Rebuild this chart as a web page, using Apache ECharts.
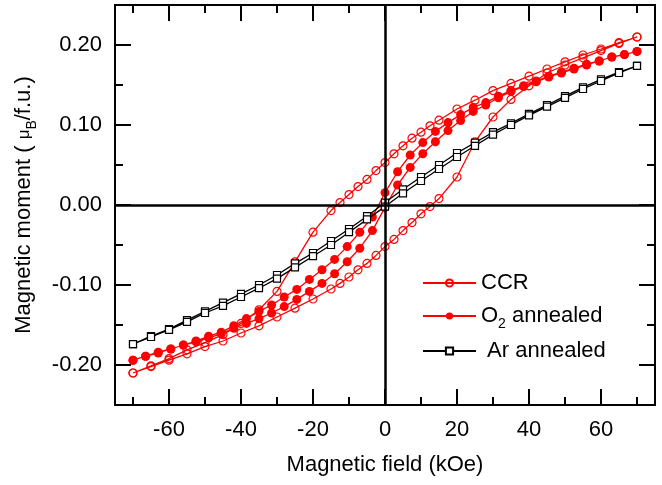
<!DOCTYPE html>
<html><head><meta charset="utf-8">
<script src="https://cdn.jsdelivr.net/npm/echarts@6/dist/echarts.min.js"></script>
<style>html,body{margin:0;padding:0;background:#fff}#c{width:662px;height:485px}</style>
</head><body><div id="c"></div>
<script>
// ---- data (field in kOe, moment in muB/f.u.) ----
const ccrFieldDown = [70,65,60,55,50,45,40,35,30,25,20,15,12.5,10,7.5,5,2.5,0,-2.5,-5,-7.5,-10,-12.5,-15,-20,-25,-30,-35,-40,-45,-50,-55,-60,-65,-70];
const ccrMomentDown = [0.210,0.203,0.195,0.1875,0.179,0.170,0.161,0.152,0.143,0.131,0.120,0.106,0.099,0.091,0.0835,0.074,0.064,0.053,0.043,0.032,0.023,0.013,0.003,-0.007,-0.034,-0.071,-0.108,-0.131,-0.148,-0.162,-0.172,-0.181,-0.192,-0.201,-0.210];
const ccrFieldUp = [-70,-65,-60,-55,-50,-45,-40,-35,-30,-25,-20,-15,-12.5,-10,-7.5,-5,-2.5,0,2.5,5,7.5,10,12.5,15,20,25,30,35,40,45,50,55,60,65,70];
const ccrMomentUp = [-0.210,-0.202,-0.194,-0.186,-0.177,-0.170,-0.160,-0.151,-0.140,-0.129,-0.1175,-0.105,-0.098,-0.090,-0.081,-0.073,-0.063,-0.052,-0.043,-0.032,-0.022,-0.011,-0.002,0.008,0.035,0.079,0.110,0.132,0.149,0.165,0.175,0.184,0.193,0.202,0.210];

const o2FieldDown = [70,66.5,63,59.5,56,52.5,49,45.5,42,38.5,35,31.5,28,24.5,21,17.5,14,10.5,7,3.5,0,-3.5,-7,-10.5,-14,-17.5,-21,-24.5,-28,-31.5,-35,-38.5,-42,-45.5,-49,-52.5,-56,-59.5,-63,-66.5,-70];
const o2MomentDown = [0.192,0.188,0.185,0.180,0.176,0.171,0.166,0.161,0.155,0.149,0.143,0.136,0.128,0.122,0.113,0.103,0.092,0.078,0.0625,0.0416,0.0154,-0.015,-0.034,-0.052,-0.068,-0.081,-0.093,-0.1055,-0.115,-0.125,-0.133,-0.142,-0.151,-0.159,-0.164,-0.170,-0.175,-0.180,-0.184,-0.189,-0.194];
const o2FieldUp = [-70,-66.5,-63,-59.5,-56,-52.5,-49,-45.5,-42,-38.5,-35,-31.5,-28,-24.5,-21,-17.5,-14,-10.5,-7,-3.5,0,3.5,7,10.5,14,17.5,21,24.5,28,31.5,35,38.5,42,45.5,49,52.5,56,59.5,63,66.5,70];
const o2MomentUp = [-0.194,-0.189,-0.185,-0.180,-0.175,-0.171,-0.166,-0.161,-0.154,-0.148,-0.142,-0.135,-0.127,-0.118,-0.108,-0.098,-0.086,-0.071,-0.054,-0.032,-0.003,0.025,0.047,0.064,0.079,0.093,0.1055,0.117,0.125,0.134,0.142,0.148,0.154,0.160,0.165,0.170,0.175,0.180,0.185,0.188,0.192];

const arFieldDown = [70,65,60,55,50,45,40,35,30,25,20,15,10,5,0,-5,-10,-15,-20,-25,-30,-35,-40,-45,-50,-55,-60,-65,-70];
const arMomentDown = [0.174,0.166,0.157,0.147,0.136,0.125,0.114,0.102,0.091,0.078,0.065,0.050,0.035,0.0196,0.003,-0.014,-0.030,-0.045,-0.060,-0.073,-0.0875,-0.100,-0.111,-0.122,-0.133,-0.144,-0.155,-0.164,-0.174];
const arFieldUp = [-70,-65,-60,-55,-50,-45,-40,-35,-30,-25,-20,-15,-10,-5,0,5,10,15,20,25,30,35,40,45,50,55,60,65,70];
const arMomentUp = [-0.174,-0.165,-0.156,-0.146,-0.135,-0.126,-0.115,-0.104,-0.092,-0.078,-0.064,-0.050,-0.034,-0.018,-0.002,0.0146,0.030,0.045,0.060,0.074,0.088,0.100,0.112,0.123,0.134,0.145,0.155,0.165,0.174];

const seriesNames = ['CCR', 'O2 annealed', 'Ar annealed'];
const xMajorTicks = [-60,-40,-20,0,20,40,60];
const xMinorTicks = [-70,-50,-30,-10,10,30,50,70];
const yMajorTicks = [-0.2,-0.1,0,0.1,0.2];
const yMinorTicks = [-0.15,-0.05,0.05,0.15];
const xRange = [-75, 75];
const yRange = [-0.25, 0.25];

// ---- build ----
const FONT = '"Liberation Sans", Arial, Helvetica, sans-serif';
function loop(xd, yd, xu, yu) {
  return xd.map((x, i) => [x, yd[i]]).concat(xu.map((x, i) => [x, yu[i]]));
}
const axLine = { show: true, onZero: false, lineStyle: { color: '#000', width: 2 } };
function xAx(pos, ticks, len, labels) {
  return {
    type: 'value', position: pos, min: xRange[0], max: xRange[1],
    axisLine: axLine, splitLine: { show: false },
    axisTick: { show: true, inside: true, length: len, customValues: ticks, lineStyle: { color: '#000', width: 2 } },
    axisLabel: labels ? { show: true, customValues: ticks, fontSize: 22, color: '#000', fontFamily: FONT, margin: 14 } : { show: false }
  };
}
function yAx(pos, ticks, len, labels) {
  return {
    type: 'value', position: pos, min: yRange[0], max: yRange[1],
    axisLine: axLine, splitLine: { show: false },
    axisTick: { show: true, inside: true, length: len, customValues: ticks, lineStyle: { color: '#000', width: 2 } },
    axisLabel: labels ? { show: true, customValues: ticks, fontSize: 22, color: '#000', fontFamily: FONT, margin: 13,
      formatter: v => v.toFixed(2) } : { show: false }
  };
}
const xAxes = [xAx('bottom', xMajorTicks, 16, true), xAx('bottom', xMinorTicks, 8, false), xAx('top', xMajorTicks, 16, false), xAx('top', xMinorTicks, 8, false)];
Object.assign(xAxes[0], {
  name: 'Magnetic field (kOe)', nameLocation: 'middle', nameGap: 49,
  nameTextStyle: { fontSize: 22, color: '#000', fontFamily: FONT }
});
const yAxes = [yAx('left', yMajorTicks, 16, true), yAx('left', yMinorTicks, 8, false), yAx('right', yMajorTicks, 16, false), yAx('right', yMinorTicks, 8, false)];
Object.assign(yAxes[0], {
  name: '{a|Magnetic moment ( }{m|μ}{s|B}{a|/f.u.)}', nameLocation: 'middle', nameGap: 76,
  nameTextStyle: { fontSize: 22, color: '#000', fontFamily: FONT,
    rich: {
      a: { fontSize: 22, fontFamily: FONT, color: '#000', lineHeight: 30 },
      m: { fontSize: 17, fontFamily: FONT, color: '#000', lineHeight: 30 },
      s: { fontSize: 14, fontFamily: FONT, color: '#000', lineHeight: 14, verticalAlign: 'bottom' }
    } }
});

const legendRich = {
  n: { fontSize: 22, fontFamily: FONT, color: '#000', lineHeight: 30 },
  s: { fontSize: 14, fontFamily: FONT, color: '#000', lineHeight: 12, verticalAlign: 'bottom' }
};
function legendFor(name, top) {
  return {
    data: [name], left: 422, top: top, orient: 'horizontal', padding: 0,
    itemWidth: 53, itemHeight: 9, itemGap: 0, selectedMode: false,
    textStyle: { fontSize: 22, fontFamily: FONT, color: '#000', rich: legendRich },
    formatter: n => n === 'O2 annealed' ? '{n|O}{s|2}{n| annealed}' : (n === 'Ar annealed' ? '{n| Ar annealed}' : '{n|' + n + '}')
  };
}

const option = {
  animation: false,
  backgroundColor: '#fff',
  grid: { left: 115, right: 7, top: 5, bottom: 80, containLabel: false },
  xAxis: xAxes,
  yAxis: yAxes,
  legend: [legendFor(seriesNames[0], 272), legendFor(seriesNames[1], 305), legendFor(seriesNames[2], 340)],
  series: [
    {
      name: seriesNames[0], type: 'line', xAxisIndex: 0, yAxisIndex: 0,
      data: loop(ccrFieldDown, ccrMomentDown, ccrFieldUp, ccrMomentUp),
      symbol: 'circle', symbolSize: 8, showAllSymbol: true,
      lineStyle: { color: '#ff0000', width: 1.3 },
      itemStyle: { color: 'rgba(255,255,255,0)', borderColor: '#ff0000', borderWidth: 1.2 },
      markLine: {
        silent: true, symbol: ['none', 'none'], label: { show: false },
        lineStyle: { color: '#000', width: 2.5, type: 'solid' },
        emphasis: { disabled: true },
        data: [{ xAxis: 0 }, { yAxis: 0 }], animation: false
      },
      z: 2
    },
    {
      name: seriesNames[1], type: 'line', xAxisIndex: 0, yAxisIndex: 0,
      data: loop(o2FieldDown, o2MomentDown, o2FieldUp, o2MomentUp),
      symbol: 'circle', symbolSize: 9, showAllSymbol: true,
      lineStyle: { color: '#ff0000', width: 1.3 },
      itemStyle: { color: '#ff0000', borderColor: '#ff0000', borderWidth: 0 },
      z: 3
    },
    {
      name: seriesNames[2], type: 'line', xAxisIndex: 0, yAxisIndex: 0,
      data: loop(arFieldDown, arMomentDown, arFieldUp, arMomentUp),
      symbol: 'rect', symbolSize: 7, showAllSymbol: true,
      lineStyle: { color: '#000', width: 1.3 },
      itemStyle: { color: '#fff', borderColor: '#000', borderWidth: 1.2 },
      z: 4
    }
  ]
};
const chart = echarts.init(document.getElementById('c'), null, { renderer: 'canvas' });
chart.setOption(option);
</script>
</body></html>
